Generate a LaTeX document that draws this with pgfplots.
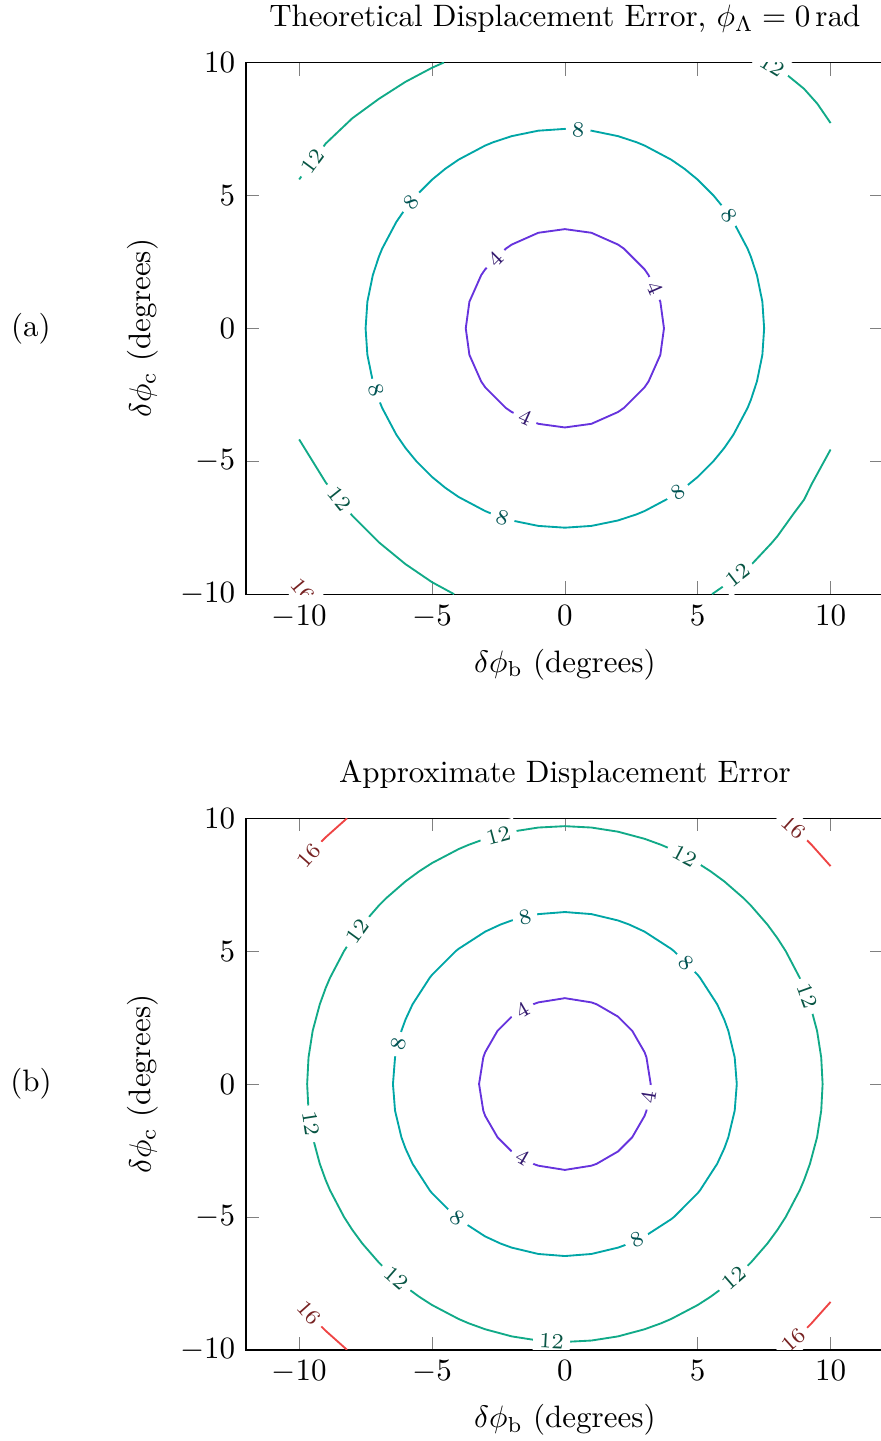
\documentclass[border={0pt -1.6pt 0pt -1.6pt}]{standalone}
\usepackage{pgfplots}
\pgfplotsset{compat=1.18}
\pgfplotsset{
  colormap={errmap}{rgb255=(102,51,221) rgb255=(0,166,166) rgb255=(16,170,136) rgb255=(238,68,68)},
  myaxis/.style={
    scale only axis, width=205.8pt, height=171.6pt,
    xmin=-12, xmax=12, ymin=-10, ymax=10,
    xtick={-10,-5,0,5,10}, ytick={-10,-5,0,5,10},
    xlabel={$\delta\phi_{\mathrm{b}}$ (degrees)},
    ylabel={$\delta\phi_{\mathrm{c}}$ (degrees)},
    colormap name=errmap, point meta min=4, point meta max=16,
    contour/label distance=60pt,
  },
}
\begin{document}
\begin{tikzpicture}[trim right=204.9pt]
\begin{axis}[myaxis, name=A, anchor=north west, at={(0,0)},
  title={Theoretical Displacement Error, $\phi_\Lambda = 0\,\mathrm{rad}$}]
\addplot[contour prepared, semithick] table {
x y z
2 -3.149 4
2.217 -3 4
3 -2.217 4
3.149 -2 4
3.593 -1 4
3.73 0 4
3.593 1 4
3.149 2 4
3 2.217 4
2.217 3 4
2 3.149 4
1 3.593 4
0 3.73 4
-1 3.593 4
-2 3.149 4
-2.217 3 4
-3 2.217 4
-3.149 2 4
-3.593 1 4
-3.73 0 4
-3.593 -1 4
-3.149 -2 4
-3 -2.217 4
-2.217 -3 4
-2 -3.149 4
-1 -3.593 4
0 -3.73 4
1 -3.593 4
2 -3.149 4

7.433 -1 8
7.5 0 8
7.433 1 8
7.228 2 8
7 2.693 8
6.874 3 8
6.344 4 8
6 4.5 8
5.590 5 8
5 5.590 8
4.5 6 8
4 6.344 8
3 6.874 8
2.693 7 8
2 7.228 8
1 7.433 8
0 7.5 8
-1 7.433 8
-2 7.228 8
-2.693 7 8
-3 6.874 8
-4 6.344 8
-4.5 6 8
-5 5.590 8
-5.590 5 8
-6 4.5 8
-6.344 4 8
-6.874 3 8
-7 2.693 8
-7.228 2 8
-7.433 1 8
-7.5 0 8
-7.433 -1 8
-7.228 -2 8
-7 -2.693 8
-6.874 -3 8
-6.344 -4 8
-6 -4.5 8
-5.590 -5 8
-5 -5.590 8
-4.5 -6 8
-4 -6.344 8
-3 -6.874 8
-2.693 -7 8
-2 -7.228 8
-1 -7.433 8
0 -7.5 8
1 -7.433 8
2 -7.228 8
2.693 -7 8
3 -6.874 8
4 -6.344 8
4.5 -6 8
5 -5.590 8
5.590 -5 8
6 -4.5 8
6.344 -4 8
6.874 -3 8
7 -2.693 8
7.228 -2 8
7.433 -1 8

-4.55 10 12
-5 9.8 12
-6 9.27 12
-7 8.63 12
-8 7.9 12
-9 6.95 12
-10 5.6 12

10 7.72 12
9.5 8.45 12
9 9.01 12
8.4 9.5 12
8 9.75 12
7.6 10 12

-4.17 -10 12
-5 -9.55 12
-6 -8.87 12
-7 -8.05 12
-8 -7.05 12
-9 -5.8 12
-10 -4.18 12

10 -4.56 12
9.3 -5.84 12
9 -6.45 12
8.61 -6.97 12
8 -7.82 12
7.77 -8.09 12
7 -8.91 12
6 -9.68 12
5.54 -10 12

-9.75 -10 16
-10 -9.7 16
};
\end{axis}
\node at ([xshift=-69.4pt]A.west) {(a)};
\begin{axis}[myaxis, name=B, anchor=north west, at={(0,-243.9pt)},
  title={Approximate Displacement Error}]
\addplot[contour prepared, semithick] table {
x y z
-1 -3.071 4
0 -3.23 4
1 -3.071 4
1.197 -3 4
2 -2.536 4
2.536 -2 4
3 -1.197 4
3.071 -1 4
3.23 0 4
3.071 1 4
3 1.197 4
2.536 2 4
2 2.536 4
1.197 3 4
1 3.071 4
0 3.23 4
-1 3.071 4
-1.197 3 4
-2 2.536 4
-2.536 2 4
-3 1.197 4
-3.071 1 4
-3.23 0 4
-3.071 -1 4
-3 -1.197 4
-2.536 -2 4
-2 -2.536 4
-1.197 -3 4
-1 -3.071 4

9.492 -2 12
9.648 -1 12
9.7 0 12
9.648 1 12
9.492 2 12
9.224 3 12
9 3.618 12
8.837 4 12
8.312 5 12
8 5.485 12
7.622 6 12
7 6.715 12
6.715 7 12
6 7.622 12
5.485 8 12
5 8.312 12
4 8.837 12
3.618 9 12
3 9.224 12
2 9.492 12
1 9.648 12
0 9.7 12
-1 9.648 12
-2 9.492 12
-3 9.224 12
-3.618 9 12
-4 8.837 12
-5 8.312 12
-5.485 8 12
-6 7.622 12
-6.715 7 12
-7 6.715 12
-7.622 6 12
-8 5.485 12
-8.312 5 12
-8.837 4 12
-9 3.618 12
-9.224 3 12
-9.492 2 12
-9.648 1 12
-9.7 0 12
-9.648 -1 12
-9.492 -2 12
-9.224 -3 12
-9 -3.618 12
-8.837 -4 12
-8.312 -5 12
-8 -5.485 12
-7.622 -6 12
-7 -6.715 12
-6.715 -7 12
-6 -7.622 12
-5.485 -8 12
-5 -8.312 12
-4 -8.837 12
-3.618 -9 12
-3 -9.224 12
-2 -9.492 12
-1 -9.648 12
0 -9.7 12
1 -9.648 12
2 -9.492 12
3 -9.224 12
3.618 -9 12
4 -8.837 12
5 -8.312 12
5.485 -8 12
6 -7.622 12
6.715 -7 12
7 -6.715 12
7.622 -6 12
8 -5.485 12
8.312 -5 12
8.837 -4 12
9 -3.618 12
9.224 -3 12
9.492 -2 12

-8.196 10 16
-9 9.283 16
-9.283 9 16
-10 8.196 16

10 8.196 16
9.283 9 16
9 9.283 16
8.196 10 16

-8.196 -10 16
-9 -9.283 16
-9.283 -9 16
-10 -8.196 16

10 -8.196 16
9.283 -9 16
9 -9.283 16
8.196 -10 16
};
\addplot[contour prepared, semithick, contour/label distance=61pt] table {
x y z
6.392 -1 8
6.47 0 8
6.392 1 8
6.153 2 8
6 2.421 8
5.732 3 8
5.085 4 8
5 4.106 8
4.106 5 8
4 5.085 8
3 5.732 8
2.421 6 8
2 6.153 8
1 6.392 8
0 6.47 8
-1 6.392 8
-2 6.153 8
-2.421 6 8
-3 5.732 8
-4 5.085 8
-4.106 5 8
-5 4.106 8
-5.085 4 8
-5.732 3 8
-6 2.421 8
-6.153 2 8
-6.392 1 8
-6.47 0 8
-6.392 -1 8
-6.153 -2 8
-6 -2.421 8
-5.732 -3 8
-5.085 -4 8
-5 -4.106 8
-4.106 -5 8
-4 -5.085 8
-3 -5.732 8
-2.421 -6 8
-2 -6.153 8
-1 -6.392 8
0 -6.47 8
1 -6.392 8
2 -6.153 8
2.421 -6 8
3 -5.732 8
4 -5.085 8
4.106 -5 8
5 -4.106 8
5.085 -4 8
5.732 -3 8
6 -2.421 8
6.153 -2 8
6.392 -1 8
};
\end{axis}
\node at ([xshift=-69.4pt]B.west) {(b)};
\end{tikzpicture}
\end{document}
